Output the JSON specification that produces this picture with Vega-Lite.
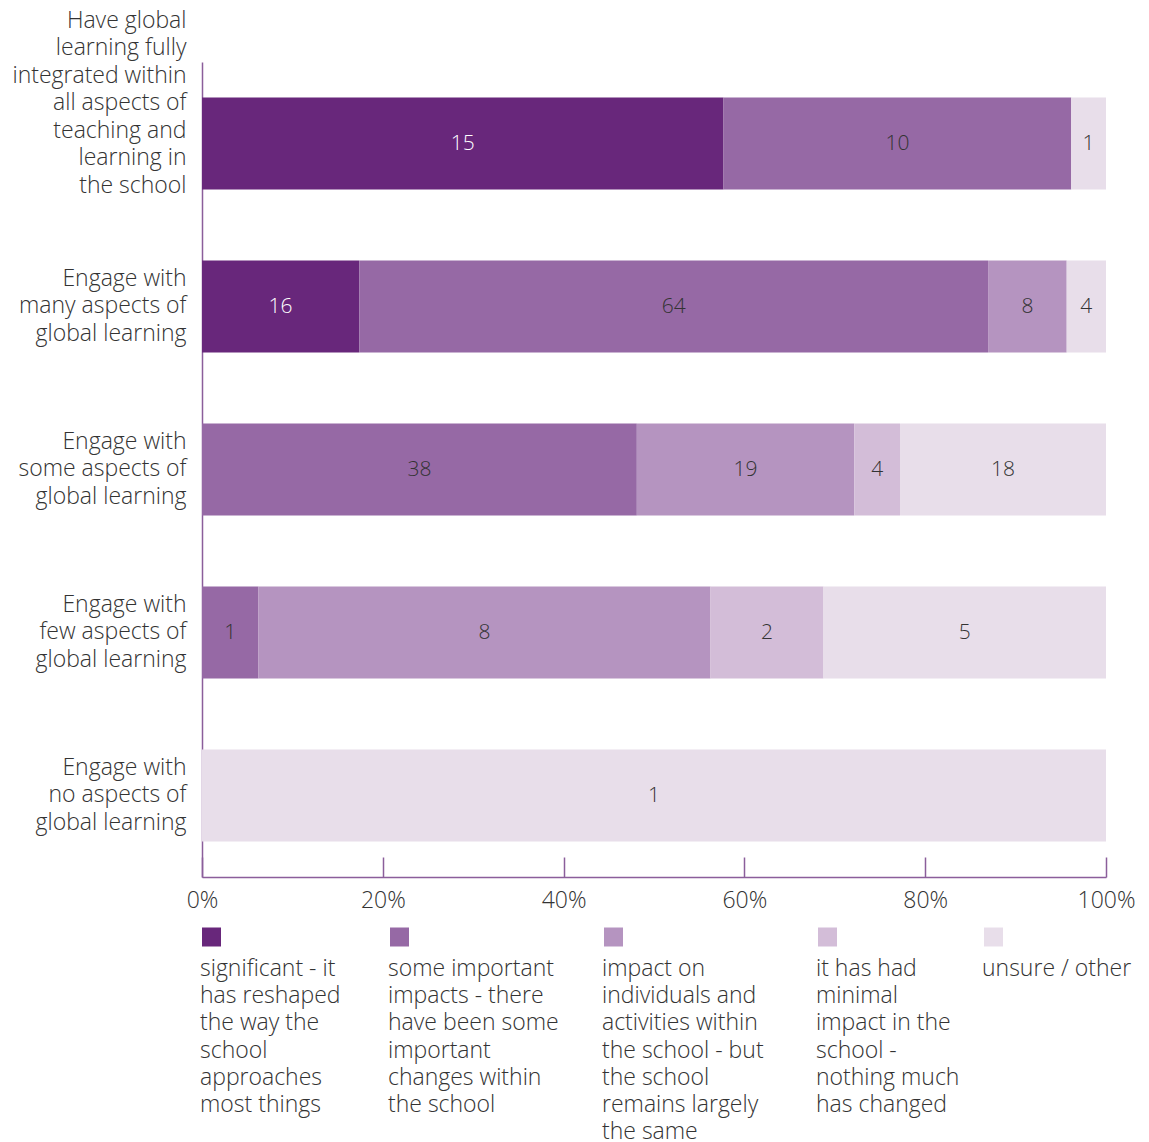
{
  "$schema": "https://vega.github.io/schema/vega-lite/v6.json",
  "padding": {"left": 11, "top": 9, "right": 20, "bottom": 0},
  "background": "white",
  "config": {"view": {"stroke": null}, "font": "Open Sans", "text": {"font": "Open Sans"}},
  "datasets": {
    "bars": [
      {"cat": "Have global|learning fully|integrated within|all aspects of|teaching and|learning in|the school", "series": "significant", "sorder": 1, "value": 15},
      {"cat": "Have global|learning fully|integrated within|all aspects of|teaching and|learning in|the school", "series": "some important", "sorder": 2, "value": 10},
      {"cat": "Have global|learning fully|integrated within|all aspects of|teaching and|learning in|the school", "series": "unsure / other", "sorder": 5, "value": 1},
      {"cat": "Engage with|many aspects of|global learning", "series": "significant", "sorder": 1, "value": 16},
      {"cat": "Engage with|many aspects of|global learning", "series": "some important", "sorder": 2, "value": 64},
      {"cat": "Engage with|many aspects of|global learning", "series": "impact on individuals", "sorder": 3, "value": 8},
      {"cat": "Engage with|many aspects of|global learning", "series": "unsure / other", "sorder": 5, "value": 4},
      {"cat": "Engage with|some aspects of|global learning", "series": "some important", "sorder": 2, "value": 38},
      {"cat": "Engage with|some aspects of|global learning", "series": "impact on individuals", "sorder": 3, "value": 19},
      {"cat": "Engage with|some aspects of|global learning", "series": "minimal impact", "sorder": 4, "value": 4},
      {"cat": "Engage with|some aspects of|global learning", "series": "unsure / other", "sorder": 5, "value": 18},
      {"cat": "Engage with|few aspects of|global learning", "series": "some important", "sorder": 2, "value": 1},
      {"cat": "Engage with|few aspects of|global learning", "series": "impact on individuals", "sorder": 3, "value": 8},
      {"cat": "Engage with|few aspects of|global learning", "series": "minimal impact", "sorder": 4, "value": 2},
      {"cat": "Engage with|few aspects of|global learning", "series": "unsure / other", "sorder": 5, "value": 5},
      {"cat": "Engage with|no aspects of|global learning", "series": "unsure / other", "sorder": 5, "value": 1}
    ],
    "legend": [
      {"series": "significant", "idx": 0, "label": "significant - it\nhas reshaped\nthe way the\nschool\napproaches\nmost things"},
      {"series": "some important", "idx": 1, "label": "some important\nimpacts - there\nhave been some\nimportant\nchanges within\nthe school"},
      {"series": "impact on individuals", "idx": 2, "label": "impact on\nindividuals and\nactivities within\nthe school - but\nthe school\nremains largely\nthe same"},
      {"series": "minimal impact", "idx": 3, "label": "it has had\nminimal\nimpact in the\nschool -\nnothing much\nhas changed"},
      {"series": "unsure / other", "idx": 4, "label": "unsure / other"}
    ]
  },
  "vconcat": [
    {
      "width": 904,
      "height": 815,
      "data": {"name": "bars"},
      "transform": [
        {"stack": "value", "groupby": ["cat"], "offset": "normalize", "sort": [{"field": "sorder", "order": "ascending"}], "as": ["x0", "x1"]},
        {"calculate": "(datum.x0 + datum.x1) / 2", "as": "mid"}
      ],
      "encoding": {
        "y": {
          "field": "cat", "type": "nominal",
          "sort": ["Have global|learning fully|integrated within|all aspects of|teaching and|learning in|the school", "Engage with|many aspects of|global learning", "Engage with|some aspects of|global learning", "Engage with|few aspects of|global learning", "Engage with|no aspects of|global learning"],
          "scale": {"paddingInner": 0.436, "paddingOuter": 0.218},
          "axis": {
            "title": null, "ticks": false, "domainColor": "#8B5E9B", "domainWidth": 1.5,
            "labelExpr": "split(datum.label, '|')", "labelFontSize": 23, "labelLineHeight": 27.5,
            "labelColor": "#333333", "labelPadding": 16, "labelFont": "Open Sans", "labelFontWeight": 300,
            "labelLimit": 400,
            "labelOffset": {"condition": {"test": "indexof(datum.value, 'Have') === 0", "value": -123}, "value": -28}
          }
        }
      },
      "layer": [
        {
          "mark": {"type": "bar"},
          "encoding": {
            "x": {"field": "x0", "type": "quantitative", "scale": {"domain": [0, 1], "nice": false},
              "axis": {"title": null, "format": ".0%", "values": [0, 0.2, 0.4, 0.6, 0.8, 1], "grid": false,
                "domainColor": "#8B5E9B", "domainWidth": 1.5, "tickColor": "#8B5E9B", "tickWidth": 1.5, "tickSize": -20,
                "labelPadding": 32, "labelFontSize": 23, "labelColor": "#333333", "labelFont": "Open Sans", "labelFontWeight": 300,
                "labelFlush": false}},
            "x2": {"field": "x1"},
            "color": {"field": "series", "type": "nominal",
              "scale": {"domain": ["significant", "some important", "impact on individuals", "minimal impact", "unsure / other"],
                "range": ["#68277B", "#9669A5", "#B594C0", "#D3BDD8", "#E8DEEA"]},
              "legend": null}
          }
        },
        {
          "mark": {"type": "text", "fontSize": 21, "font": "Open Sans", "fontWeight": 300},
          "encoding": {
            "x": {"field": "mid", "type": "quantitative"},
            "text": {"field": "value", "type": "quantitative"},
            "color": {"condition": {"test": "datum.series === 'significant'", "value": "#ffffff"}, "value": "#333333"}
          }
        }
      ]
    },
    {
      "width": 904,
      "height": 20,
      "data": {"name": "legend"},
      "encoding": {
        "x": {"field": "idx", "type": "quantitative", "scale": {"domain": [0, 1, 2, 3, 4], "range": [0, 188, 402, 616, 782]}, "axis": null}
      },
      "layer": [
        {
          "mark": {"type": "square", "size": 361, "opacity": 1, "xOffset": 9.5},
          "encoding": {"color": {"field": "series", "type": "nominal", "legend": null}}
        },
        {
          "mark": {"type": "text", "align": "left", "baseline": "top", "dy": 21, "dx": -2, "fontSize": 23, "lineHeight": 27.2, "lineBreak": "\n", "font": "Open Sans", "fontWeight": 300, "color": "#333333"},
          "encoding": {"text": {"field": "label"}}
        }
      ]
    }
  ],
  "spacing": 15
}
